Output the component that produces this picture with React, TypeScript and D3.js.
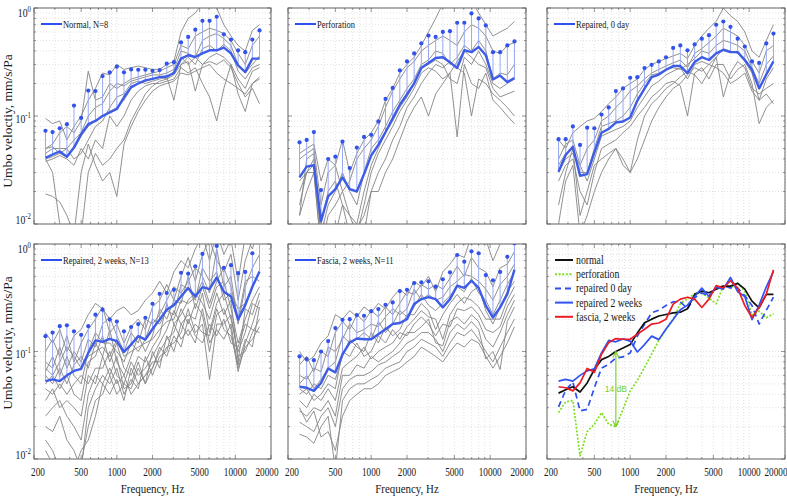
import React from "react";
import * as d3 from "d3";

// ---------- categories / ticks ----------
const FREQS = [250, 287, 330, 379, 435, 500, 574, 660, 758, 871, 1000, 1149, 1320, 1516, 1741, 2000, 2297, 2639, 3031, 3482, 4000, 4595, 5278, 6063, 6964, 8000, 9190, 10556, 12126, 13929, 16000];
const X_TICKS = [200, 500, 1000, 2000, 5000, 10000, 20000];
const X_TICK_LABELS = ["200", "500", "1000", "2000", "5000", "10000", "20000"];
const Y_TICKS = [1, 0.1, 0.01];
const Y_TICK_EXP = ["0", "-1", "-2"];

// ---------- Normal ----------
const NORMAL_MEAN = [0.041, 0.044, 0.047, 0.042, 0.051, 0.068, 0.084, 0.09, 0.1, 0.108, 0.116, 0.149, 0.185, 0.2, 0.214, 0.221, 0.229, 0.232, 0.25, 0.34, 0.365, 0.352, 0.38, 0.406, 0.406, 0.43, 0.38, 0.294, 0.255, 0.34, 0.34];
const NORMAL_UPPER = [0.073, 0.071, 0.077, 0.084, 0.125, 0.096, 0.172, 0.17, 0.234, 0.254, 0.286, 0.254, 0.27, 0.268, 0.268, 0.262, 0.266, 0.305, 0.315, 0.48, 0.54, 0.63, 0.76, 0.76, 0.83, 0.57, 0.51, 0.406, 0.39, 0.51, 0.62];
const NORMAL_SUBJECTS = [
  [0.095, 0.085, 0.09, 0.06, 0.08, 0.1, 0.14, 0.18, 0.25, 0.24, 0.3, 0.27, 0.28, 0.29, 0.28, 0.27, 0.27, 0.3, 0.32, 0.6, 0.8, 0.9, 1.1, 1.2, 1.0, 0.7, 0.55, 0.45, 0.4, 0.62, 0.7],
  [0.05, 0.055, 0.07, 0.08, 0.07, 0.09, 0.26, 0.14, 0.15, 0.2, 0.18, 0.2, 0.22, 0.23, 0.24, 0.25, 0.26, 0.28, 0.3, 0.45, 0.42, 0.55, 0.6, 0.65, 0.62, 0.58, 0.5, 0.38, 0.3, 0.45, 0.55],
  [0.045, 0.05, 0.05, 0.05, 0.06, 0.07, 0.1, 0.12, 0.13, 0.17, 0.2, 0.19, 0.21, 0.22, 0.23, 0.24, 0.24, 0.25, 0.27, 0.4, 0.38, 0.35, 0.5, 0.55, 0.58, 0.52, 0.45, 0.3, 0.25, 0.3, 0.36],
  [0.04, 0.042, 0.045, 0.042, 0.05, 0.065, 0.08, 0.09, 0.1, 0.11, 0.12, 0.14, 0.18, 0.2, 0.21, 0.22, 0.23, 0.22, 0.24, 0.3, 0.35, 0.3, 0.42, 0.45, 0.4, 0.46, 0.4, 0.26, 0.22, 0.28, 0.3],
  [0.05, 0.052, 0.045, 0.05, 0.04, 0.045, 0.06, 0.08, 0.09, 0.12, 0.15, 0.16, 0.2, 0.21, 0.2, 0.21, 0.22, 0.23, 0.14, 0.3, 0.32, 0.17, 0.3, 0.35, 0.38, 0.35, 0.3, 0.22, 0.18, 0.26, 0.28],
  [0.038, 0.04, 0.043, 0.04, 0.035, 0.05, 0.04, 0.06, 0.05, 0.1, 0.08, 0.1, 0.14, 0.17, 0.19, 0.2, 0.2, 0.21, 0.22, 0.28, 0.25, 0.28, 0.2, 0.15, 0.09, 0.18, 0.3, 0.16, 0.11, 0.2, 0.23],
  [0.019, 0.018, 0.016, 0.012, 0.008, 0.03, 0.055, 0.035, 0.025, 0.03, 0.018, 0.055, 0.08, 0.11, 0.14, 0.17, 0.19, 0.2, 0.21, 0.25, 0.24, 0.26, 0.28, 0.3, 0.25, 0.22, 0.2, 0.18, 0.16, 0.2, 0.22],
  [0.04, 0.03, 0.01, 0.008, 0.005, 0.008, 0.03, 0.045, 0.035, 0.04, 0.05, 0.06, 0.09, 0.12, 0.16, 0.19, 0.21, 0.22, 0.26, 0.35, 0.3, 0.35, 0.3, 0.32, 0.3, 0.33, 0.28, 0.2, 0.15, 0.18, 0.13],
];

// ---------- Perforation ----------
const PERF_MEAN = [0.027, 0.034, 0.035, 0.0107, 0.018, 0.021, 0.027, 0.021, 0.02, 0.029, 0.043, 0.054, 0.071, 0.095, 0.127, 0.159, 0.2, 0.278, 0.31, 0.344, 0.35, 0.314, 0.278, 0.406, 0.39, 0.436, 0.365, 0.218, 0.237, 0.206, 0.224];
const PERF_UPPER = [0.057, 0.06, 0.071, 0.0206, 0.04, 0.042, 0.058, 0.033, 0.051, 0.064, 0.067, 0.089, 0.144, 0.182, 0.264, 0.32, 0.38, 0.47, 0.556, 0.54, 0.6, 0.61, 0.73, 0.73, 0.89, 0.8, 0.69, 0.39, 0.39, 0.45, 0.49];
const PERF_SUBJECTS = [
  [0.045, 0.05, 0.055, 0.025, 0.04, 0.035, 0.06, 0.03, 0.045, 0.06, 0.07, 0.09, 0.14, 0.18, 0.25, 0.3, 0.35, 0.45, 0.6, 0.8, 1.1, 1.3, 1.2, 1.1, 1.2, 0.9, 0.7, 0.55, 0.6, 0.65, 0.75],
  [0.04, 0.045, 0.05, 0.015, 0.03, 0.035, 0.02, 0.025, 0.04, 0.05, 0.06, 0.08, 0.12, 0.17, 0.22, 0.28, 0.32, 0.4, 0.45, 0.5, 0.55, 0.5, 0.45, 0.6, 0.7, 0.65, 0.55, 0.4, 0.38, 0.45, 0.48],
  [0.025, 0.03, 0.035, 0.008, 0.015, 0.02, 0.03, 0.02, 0.015, 0.03, 0.05, 0.06, 0.08, 0.11, 0.14, 0.18, 0.22, 0.3, 0.33, 0.4, 0.38, 0.3, 0.35, 0.45, 0.4, 0.5, 0.4, 0.22, 0.25, 0.24, 0.3],
  [0.02, 0.03, 0.03, 0.006, 0.012, 0.015, 0.02, 0.012, 0.01, 0.02, 0.035, 0.05, 0.07, 0.09, 0.12, 0.15, 0.2, 0.28, 0.3, 0.33, 0.3, 0.22, 0.2, 0.35, 0.3, 0.4, 0.3, 0.2, 0.18, 0.2, 0.22],
  [0.015, 0.03, 0.04, 0.008, 0.01, 0.008, 0.015, 0.012, 0.008, 0.015, 0.03, 0.045, 0.06, 0.08, 0.11, 0.14, 0.18, 0.25, 0.28, 0.26, 0.22, 0.25, 0.064, 0.3, 0.2, 0.18, 0.25, 0.14, 0.12, 0.1, 0.085],
  [0.012, 0.02, 0.03, 0.006, 0.008, 0.01, 0.01, 0.008, 0.006, 0.008, 0.02, 0.03, 0.04, 0.06, 0.08, 0.12, 0.15, 0.2, 0.25, 0.3, 0.28, 0.32, 0.28, 0.25, 0.1, 0.22, 0.2, 0.16, 0.14, 0.12, 0.1],
  [0.012, 0.04, 0.045, 0.01, 0.02, 0.025, 0.015, 0.008, 0.009, 0.012, 0.02, 0.02, 0.03, 0.04, 0.06, 0.09, 0.12, 0.15, 0.1, 0.16, 0.2, 0.25, 0.32, 0.4, 0.35, 0.3, 0.28, 0.18, 0.15, 0.16, 0.17],
];

// ---------- Repaired, 0 day ----------
const REP0_MEAN = [0.0305, 0.0436, 0.052, 0.028, 0.029, 0.046, 0.07, 0.076, 0.087, 0.089, 0.097, 0.139, 0.179, 0.229, 0.242, 0.268, 0.29, 0.29, 0.25, 0.316, 0.35, 0.33, 0.38, 0.41, 0.39, 0.39, 0.33, 0.268, 0.18, 0.242, 0.32];
const REP0_UPPER = [0.061, 0.061, 0.08, 0.054, 0.078, 0.077, 0.103, 0.12, 0.17, 0.18, 0.226, 0.229, 0.278, 0.298, 0.32, 0.35, 0.427, 0.45, 0.406, 0.46, 0.52, 0.56, 0.7, 0.75, 0.67, 0.52, 0.44, 0.32, 0.31, 0.47, 0.58];
const REP0_SUBJECTS = [
  [0.06, 0.05, 0.07, 0.08, 0.09, 0.095, 0.11, 0.13, 0.15, 0.18, 0.2, 0.22, 0.27, 0.3, 0.32, 0.34, 0.36, 0.38, 0.34, 0.45, 0.55, 0.65, 0.75, 1.0, 0.85, 0.75, 0.6, 0.4, 0.35, 0.5, 0.7],
  [0.04, 0.055, 0.06, 0.035, 0.05, 0.06, 0.09, 0.1, 0.12, 0.14, 0.17, 0.19, 0.22, 0.25, 0.27, 0.29, 0.31, 0.33, 0.28, 0.38, 0.42, 0.48, 0.55, 0.65, 0.6, 0.55, 0.45, 0.32, 0.25, 0.4, 0.45],
  [0.035, 0.045, 0.05, 0.03, 0.03, 0.05, 0.08, 0.085, 0.09, 0.1, 0.12, 0.16, 0.2, 0.24, 0.25, 0.27, 0.28, 0.27, 0.3, 0.34, 0.4, 0.38, 0.45, 0.5, 0.48, 0.45, 0.4, 0.28, 0.2, 0.3, 0.36],
  [0.03, 0.04, 0.045, 0.035, 0.025, 0.04, 0.065, 0.07, 0.075, 0.08, 0.09, 0.12, 0.15, 0.19, 0.21, 0.24, 0.26, 0.28, 0.22, 0.3, 0.32, 0.3, 0.35, 0.42, 0.4, 0.38, 0.32, 0.25, 0.14, 0.22, 0.28],
  [0.025, 0.035, 0.04, 0.02, 0.015, 0.03, 0.05, 0.055, 0.06, 0.07, 0.08, 0.1, 0.12, 0.15, 0.17, 0.2, 0.21, 0.19, 0.1, 0.25, 0.28, 0.22, 0.3, 0.3, 0.22, 0.27, 0.3, 0.2, 0.085, 0.12, 0.14],
  [0.015, 0.03, 0.05, 0.012, 0.02, 0.035, 0.04, 0.045, 0.05, 0.04, 0.03, 0.06, 0.1, 0.13, 0.15, 0.18, 0.2, 0.23, 0.26, 0.24, 0.2, 0.26, 0.35, 0.15, 0.25, 0.32, 0.28, 0.18, 0.16, 0.18, 0.2],
  [0.01, 0.025, 0.035, 0.008, 0.012, 0.02, 0.03, 0.04, 0.05, 0.035, 0.03, 0.04, 0.06, 0.09, 0.12, 0.15, 0.18, 0.2, 0.24, 0.28, 0.26, 0.3, 0.28, 0.25, 0.2, 0.22, 0.25, 0.17, 0.14, 0.16, 0.13],
];

// ---------- Repaired, 2 weeks ----------
const REP2_MEAN = [0.053, 0.055, 0.053, 0.06, 0.066, 0.069, 0.097, 0.127, 0.123, 0.131, 0.125, 0.099, 0.116, 0.139, 0.129, 0.162, 0.198, 0.245, 0.27, 0.325, 0.389, 0.325, 0.397, 0.38, 0.488, 0.36, 0.325, 0.198, 0.27, 0.4, 0.555];
const REP2_UPPER = [0.139, 0.15, 0.172, 0.175, 0.154, 0.143, 0.172, 0.22, 0.245, 0.198, 0.19, 0.154, 0.169, 0.18, 0.206, 0.278, 0.344, 0.35, 0.375, 0.54, 0.53, 0.62, 0.81, 1.1, 0.96, 0.6, 0.635, 0.535, 0.55, 0.82, 1.1];
const REP2_SUBJECTS = [
  [0.15, 0.12, 0.16, 0.1, 0.14, 0.16, 0.22, 0.28, 0.25, 0.2, 0.24, 0.26, 0.22, 0.24, 0.3, 0.35, 0.45, 0.35, 0.55, 0.7, 0.6, 0.9, 1.2, 0.7, 1.3, 0.8, 1.1, 0.45, 1.2, 0.9, 1.5],
  [0.1, 0.13, 0.09, 0.14, 0.08, 0.12, 0.16, 0.2, 0.26, 0.15, 0.18, 0.12, 0.17, 0.2, 0.16, 0.26, 0.3, 0.42, 0.3, 0.5, 0.75, 0.45, 0.8, 1.1, 0.7, 0.55, 0.8, 0.3, 0.7, 1.1, 1.0],
  [0.08, 0.07, 0.11, 0.07, 0.1, 0.08, 0.13, 0.11, 0.18, 0.21, 0.14, 0.1, 0.15, 0.12, 0.2, 0.18, 0.22, 0.3, 0.4, 0.35, 0.45, 0.6, 0.5, 0.35, 0.9, 0.4, 0.5, 0.18, 0.4, 0.6, 0.8],
  [0.065, 0.09, 0.06, 0.09, 0.06, 0.05, 0.1, 0.15, 0.12, 0.12, 0.1, 0.08, 0.12, 0.1, 0.13, 0.2, 0.18, 0.24, 0.22, 0.42, 0.38, 0.3, 0.6, 0.45, 0.55, 0.3, 0.35, 0.25, 0.28, 0.4, 0.55],
  [0.06, 0.05, 0.07, 0.05, 0.075, 0.09, 0.07, 0.12, 0.09, 0.16, 0.08, 0.06, 0.09, 0.14, 0.1, 0.14, 0.25, 0.2, 0.3, 0.28, 0.5, 0.25, 0.4, 0.25, 0.4, 0.45, 0.25, 0.12, 0.2, 0.3, 0.4],
  [0.05, 0.06, 0.045, 0.06, 0.04, 0.035, 0.08, 0.09, 0.14, 0.08, 0.12, 0.07, 0.06, 0.09, 0.08, 0.11, 0.14, 0.28, 0.18, 0.22, 0.3, 0.35, 0.28, 0.2, 0.35, 0.22, 0.3, 0.08, 0.25, 0.22, 0.35],
  [0.045, 0.04, 0.05, 0.04, 0.05, 0.06, 0.05, 0.07, 0.07, 0.1, 0.06, 0.05, 0.08, 0.06, 0.07, 0.09, 0.12, 0.16, 0.24, 0.18, 0.22, 0.2, 0.35, 0.15, 0.28, 0.35, 0.2, 0.1, 0.15, 0.28, 0.25],
  [0.035, 0.045, 0.03, 0.035, 0.03, 0.025, 0.06, 0.05, 0.09, 0.06, 0.09, 0.045, 0.05, 0.08, 0.05, 0.07, 0.1, 0.13, 0.15, 0.25, 0.18, 0.28, 0.22, 0.1, 0.22, 0.25, 0.16, 0.065, 0.12, 0.18, 0.3],
  [0.025, 0.03, 0.035, 0.025, 0.02, 0.015, 0.04, 0.06, 0.05, 0.07, 0.05, 0.06, 0.04, 0.05, 0.06, 0.08, 0.08, 0.11, 0.12, 0.15, 0.25, 0.15, 0.18, 0.055, 0.18, 0.18, 0.22, 0.09, 0.1, 0.15, 0.2],
  [0.02, 0.018, 0.025, 0.015, 0.012, 0.008, 0.03, 0.045, 0.06, 0.05, 0.07, 0.04, 0.055, 0.045, 0.09, 0.06, 0.09, 0.1, 0.18, 0.13, 0.16, 0.12, 0.25, 0.12, 0.16, 0.13, 0.18, 0.07, 0.11, 0.13, 0.17],
  [0.015, 0.012, 0.008, 0.01, 0.007, 0.009, 0.02, 0.035, 0.04, 0.06, 0.04, 0.05, 0.045, 0.07, 0.05, 0.1, 0.07, 0.14, 0.1, 0.18, 0.14, 0.18, 0.15, 0.14, 0.25, 0.16, 0.14, 0.075, 0.13, 0.11, 0.26],
  [0.012, 0.009, 0.006, 0.005, 0.008, 0.012, 0.015, 0.025, 0.05, 0.04, 0.055, 0.035, 0.07, 0.05, 0.06, 0.07, 0.11, 0.09, 0.14, 0.11, 0.2, 0.14, 0.12, 0.18, 0.14, 0.2, 0.12, 0.11, 0.18, 0.16, 0.15],
  [0.07, 0.06, 0.08, 0.11, 0.09, 0.07, 0.09, 0.1, 0.11, 0.09, 0.13, 0.09, 0.1, 0.11, 0.12, 0.13, 0.16, 0.19, 0.2, 0.3, 0.28, 0.32, 0.45, 0.28, 0.45, 0.6, 0.4, 0.2, 0.45, 0.5, 0.45],
];

// ---------- Fascia, 2 weeks ----------
const FASCIA_MEAN = [0.047, 0.046, 0.043, 0.051, 0.0695, 0.064, 0.094, 0.121, 0.132, 0.13, 0.13, 0.145, 0.161, 0.18, 0.184, 0.2, 0.276, 0.307, 0.32, 0.307, 0.257, 0.307, 0.41, 0.39, 0.455, 0.39, 0.267, 0.207, 0.257, 0.342, 0.577];
const FASCIA_UPPER = [0.09, 0.085, 0.083, 0.1, 0.125, 0.165, 0.197, 0.2, 0.218, 0.215, 0.237, 0.248, 0.272, 0.286, 0.365, 0.375, 0.433, 0.44, 0.45, 0.4, 0.47, 0.545, 0.79, 0.685, 0.855, 0.82, 0.514, 0.46, 0.55, 0.76, 1.02];
const FASCIA_SUBJECTS = [
  [0.1, 0.08, 0.09, 0.12, 0.14, 0.22, 0.2, 0.24, 0.21, 0.26, 0.23, 0.28, 0.25, 0.32, 0.38, 0.33, 0.45, 0.4, 0.5, 0.36, 0.55, 0.65, 0.8, 0.75, 1.2, 1.4, 1.1, 0.7, 1.0, 1.2, 1.5],
  [0.075, 0.09, 0.065, 0.1, 0.09, 0.15, 0.19, 0.16, 0.22, 0.19, 0.24, 0.21, 0.26, 0.22, 0.28, 0.36, 0.34, 0.42, 0.38, 0.42, 0.38, 0.48, 0.62, 0.5, 0.75, 0.6, 0.55, 0.4, 0.6, 0.65, 0.85],
  [0.06, 0.055, 0.07, 0.065, 0.11, 0.1, 0.13, 0.18, 0.15, 0.16, 0.18, 0.17, 0.21, 0.25, 0.22, 0.25, 0.38, 0.3, 0.34, 0.3, 0.32, 0.4, 0.45, 0.52, 0.5, 0.45, 0.38, 0.3, 0.42, 0.5, 0.65],
  [0.05, 0.06, 0.045, 0.055, 0.07, 0.08, 0.14, 0.12, 0.13, 0.15, 0.13, 0.19, 0.15, 0.18, 0.24, 0.21, 0.26, 0.34, 0.27, 0.24, 0.28, 0.33, 0.4, 0.36, 0.48, 0.35, 0.3, 0.22, 0.3, 0.42, 0.55],
  [0.045, 0.04, 0.05, 0.045, 0.06, 0.055, 0.09, 0.13, 0.11, 0.1, 0.15, 0.12, 0.17, 0.14, 0.16, 0.22, 0.22, 0.28, 0.24, 0.16, 0.22, 0.28, 0.34, 0.28, 0.36, 0.4, 0.24, 0.18, 0.26, 0.36, 0.45],
  [0.04, 0.045, 0.035, 0.04, 0.05, 0.045, 0.1, 0.09, 0.12, 0.09, 0.1, 0.14, 0.12, 0.16, 0.13, 0.17, 0.2, 0.24, 0.21, 0.2, 0.13, 0.22, 0.28, 0.32, 0.3, 0.26, 0.2, 0.2, 0.2, 0.3, 0.4],
  [0.035, 0.03, 0.04, 0.035, 0.045, 0.035, 0.07, 0.08, 0.09, 0.11, 0.085, 0.1, 0.11, 0.12, 0.15, 0.14, 0.18, 0.21, 0.18, 0.14, 0.18, 0.17, 0.25, 0.24, 0.26, 0.22, 0.16, 0.15, 0.17, 0.26, 0.34],
  [0.028, 0.025, 0.03, 0.028, 0.035, 0.025, 0.06, 0.06, 0.075, 0.07, 0.09, 0.08, 0.09, 0.1, 0.12, 0.15, 0.15, 0.17, 0.2, 0.12, 0.113, 0.19, 0.21, 0.18, 0.22, 0.19, 0.13, 0.11, 0.15, 0.22, 0.3],
  [0.022, 0.02, 0.018, 0.025, 0.03, 0.02, 0.045, 0.055, 0.06, 0.06, 0.065, 0.075, 0.08, 0.09, 0.1, 0.12, 0.13, 0.15, 0.15, 0.13, 0.1, 0.15, 0.18, 0.16, 0.19, 0.16, 0.085, 0.1, 0.068, 0.19, 0.26],
  [0.017, 0.016, 0.014, 0.02, 0.025, 0.008, 0.035, 0.045, 0.05, 0.05, 0.055, 0.06, 0.07, 0.075, 0.08, 0.1, 0.11, 0.13, 0.12, 0.11, 0.09, 0.12, 0.15, 0.14, 0.16, 0.13, 0.1, 0.08, 0.11, 0.15, 0.2],
  [0.03, 0.022, 0.028, 0.016, 0.018, 0.012, 0.025, 0.035, 0.04, 0.045, 0.045, 0.05, 0.06, 0.065, 0.07, 0.08, 0.09, 0.11, 0.1, 0.09, 0.08, 0.1, 0.12, 0.11, 0.13, 0.12, 0.09, 0.07, 0.09, 0.12, 0.17],
];

const PANEL_LABELS = ["Normal, N=8", "Perforation", "Repaired, 0 day", "Repaired, 2 weeks, N=13", "Fascia, 2 weeks, N=11"];
const SUMMARY_LABELS = ["normal", "perforation", "repaired 0 day", "repaired 2 weeks", "fascia, 2 weeks"];
const ANNOT_LABEL = "14 dB";
const ANNOT_INDEX = 8;

// ---------- layout ----------
const W = 787;
const H = 499;
const COLS: [number, number][] = [[34, 271], [288, 526], [547, 785]];
const ROWS: [number, number][] = [[8, 224], [244, 459]];
const SERIF = '"Liberation Serif", "Times New Roman", serif';
const SANS = '"Liberation Sans", Arial, sans-serif';

const GRID_X: number[] = [];
for (const d of [100, 1000, 10000]) for (let m = 1; m < 10; m++) { const v = d * m; if (v >= 200 && v <= 20000) GRID_X.push(v); }
const GRID_Y: number[] = [];
for (const d of [0.01, 0.1]) for (let m = 1; m < 10; m++) GRID_Y.push(d * m);
GRID_Y.push(1);

type TxtProps = { x: number; y: number; sx?: number; size?: number; anchor?: string; fill?: string; family?: string; children: React.ReactNode };
function Txt({ x, y, sx = 0.84, size = 11, anchor = "middle", fill = "#1a1a1a", family = SERIF, children }: TxtProps) {
  return (
    <text transform={`translate(${x},${y}) scale(${sx},1)`} fontSize={size} fontFamily={family} textAnchor={anchor as any} fill={fill}>
      {children}
    </text>
  );
}

function scalesFor(col: number, row: number) {
  const [x0, x1] = COLS[col];
  const [y0, y1] = ROWS[row];
  const x = d3.scaleLog().domain([200, 20000]).range([x0, x1]);
  const y = d3.scaleLog().domain([0.01, 1]).range([y1, y0]);
  return { x, y, x0, x1, y0, y1 };
}

function Frame({ col, row, showXLabels, showYLabels }: { col: number; row: number; showXLabels: boolean; showYLabels: boolean }) {
  const { x, y, x0, x1, y0, y1 } = scalesFor(col, row);
  const tickLen = 3;
  return (
    <g>
      {GRID_X.map((g, i) => (
        <line key={"gx" + i} x1={x(g)} x2={x(g)} y1={y0} y2={y1} stroke="#cfcfcf" strokeWidth={0.6} strokeDasharray="1,2" />
      ))}
      {GRID_Y.map((g, i) => (
        <line key={"gy" + i} x1={x0} x2={x1} y1={y(g)} y2={y(g)} stroke="#cfcfcf" strokeWidth={0.6} strokeDasharray="1,2" />
      ))}
      {GRID_X.map((g, i) => {
        const major = X_TICKS.includes(g);
        const l = major ? tickLen + 1 : tickLen - 1;
        return (
          <g key={"tx" + i}>
            <line x1={x(g)} x2={x(g)} y1={y1} y2={y1 - l} stroke="#555" strokeWidth={0.6} />
            <line x1={x(g)} x2={x(g)} y1={y0} y2={y0 + l} stroke="#555" strokeWidth={0.6} />
          </g>
        );
      })}
      {GRID_Y.map((g, i) => {
        const major = Y_TICKS.some((t) => Math.abs(t - g) < 1e-9);
        const l = major ? tickLen + 1 : tickLen - 1;
        return (
          <g key={"ty" + i}>
            <line x1={x0} x2={x0 + l} y1={y(g)} y2={y(g)} stroke="#555" strokeWidth={0.6} />
            <line x1={x1} x2={x1 - l} y1={y(g)} y2={y(g)} stroke="#555" strokeWidth={0.6} />
          </g>
        );
      })}
      <rect x={x0} y={y0} width={x1 - x0} height={y1 - y0} fill="none" stroke="#555" strokeWidth={0.9} />
      {showXLabels &&
        X_TICKS.map((t, i) => {
          const last = i === X_TICKS.length - 1;
          const nudge = i === 0 ? 4 : last ? (col === 2 ? -9 : -4) : 0;
          return (
            <Txt key={"xl" + i} x={x(t) + nudge} y={y1 + 17} size={11.5} sx={0.8}>
              {X_TICK_LABELS[i]}
            </Txt>
          );
        })}
      {showYLabels &&
        Y_TICKS.map((t, i) => {
          const dy = [9, 6.5, 0][i];
          return (
            <text key={"yl" + i} transform={`translate(${x0 - 3},${y(t) + dy}) scale(0.85,1)`} textAnchor="end" fontSize={11.5} fontFamily={SERIF} fill="#1a1a1a">
              10
              <tspan fontSize={8} dy={-5}>{Y_TICK_EXP[i]}</tspan>
            </text>
          );
        })}
      {showXLabels && (
        <Txt x={(x0 + x1) / 2} y={y1 + 34} size={13} sx={0.84}>
          Frequency, Hz
        </Txt>
      )}
    </g>
  );
}

type PanelProps = { id: string; col: number; row: number; mean: number[]; upper: number[]; subjects: number[][]; label: string };
function StatPanel({ id, col, row, mean, upper, subjects, label }: PanelProps) {
  const { x, y, x0, x1, y0, y1 } = scalesFor(col, row);
  const line = d3
    .line<number>()
    .x((_, i) => x(FREQS[i]))
    .y((v) => y(v));
  return (
    <g>
      <defs>
        <clipPath id={id}>
          <rect x={x0} y={y0} width={x1 - x0} height={y1 - y0} />
        </clipPath>
      </defs>
      <Frame col={col} row={row} showXLabels={row === 1} showYLabels={col === 0} />
      <g clipPath={`url(#${id})`}>
        {subjects.map((s, i) => (
          <path key={"s" + i} d={line(s) || ""} fill="none" stroke="#858585" strokeWidth={0.9} />
        ))}
        {upper.map((u, i) => (
          <line key={"st" + i} x1={x(FREQS[i])} x2={x(FREQS[i])} y1={y(mean[i])} y2={y(u)} stroke="#98a9f3" strokeWidth={1} />
        ))}
        <path d={line(mean) || ""} fill="none" stroke="#3d5ce8" strokeWidth={2.4} strokeLinejoin="round" />
        {upper.map((u, i) => (
          <circle key={"d" + i} cx={x(FREQS[i])} cy={y(u)} r={2.1} fill="#3352ea" />
        ))}
      </g>
      <line x1={x0 + 7} x2={x0 + 28} y1={y0 + 16} y2={y0 + 16} stroke="#2f50f0" strokeWidth={2} />
      <Txt x={x0 + 29} y={y0 + 20} size={11} sx={0.77} anchor="start">
        {label}
      </Txt>
    </g>
  );
}

const SUMMARY_SERIES = [
  { values: PERF_MEAN, color: "#7ddf1e", dash: "2,1.6", width: 1.7, legendIndex: 1 },
  { values: REP0_MEAN, color: "#3050ee", dash: "6,4", width: 1.7, legendIndex: 2 },
  { values: NORMAL_MEAN, color: "#111111", dash: "", width: 1.7, legendIndex: 0 },
  { values: REP2_MEAN, color: "#2f52f5", dash: "", width: 1.7, legendIndex: 3 },
  { values: FASCIA_MEAN, color: "#ec1c24", dash: "", width: 1.7, legendIndex: 4 },
];

function SummaryPanel() {
  const col = 2;
  const row = 1;
  const { x, y, x0, x1, y0, y1 } = scalesFor(col, row);
  const line = d3
    .line<number>()
    .x((_, i) => x(FREQS[i]))
    .y((v) => y(v));
  const legendOrder = [...SUMMARY_SERIES].sort((a, b) => a.legendIndex - b.legendIndex);
  const ax = x(FREQS[ANNOT_INDEX]);
  const ayTop = y(NORMAL_MEAN[ANNOT_INDEX]);
  const ayBot = y(PERF_MEAN[ANNOT_INDEX]);
  const green = "#6fd01e";
  return (
    <g>
      <defs>
        <clipPath id="clip6">
          <rect x={x0} y={y0} width={x1 - x0} height={y1 - y0} />
        </clipPath>
      </defs>
      <Frame col={col} row={row} showXLabels={true} showYLabels={false} />
      <g clipPath="url(#clip6)">
        {SUMMARY_SERIES.map((s, i) => (
          <path key={i} d={line(s.values) || ""} fill="none" stroke={s.color} strokeWidth={s.width} strokeDasharray={s.dash || undefined} strokeLinejoin="round" />
        ))}
        <line x1={ax} x2={ax} y1={ayTop} y2={ayBot} stroke={green} strokeWidth={1.1} />
        <path d={`M${ax - 3},${ayTop + 6} L${ax},${ayTop} L${ax + 3},${ayTop + 6}`} fill="none" stroke={green} strokeWidth={1.1} />
        <path d={`M${ax - 3},${ayBot - 6} L${ax},${ayBot} L${ax + 3},${ayBot - 6}`} fill="none" stroke={green} strokeWidth={1.1} />
      </g>
      <Txt x={ax} y={(ayTop + ayBot) / 2 + 3} size={9} sx={0.95} family={SANS} fill={green}>
        {ANNOT_LABEL}
      </Txt>
      {legendOrder.map((s, i) => {
        const ly = y0 + 16 + i * 14.2;
        return (
          <g key={"lg" + i}>
            <line x1={x0 + 8} x2={x0 + 26} y1={ly} y2={ly} stroke={s.color} strokeWidth={2} strokeDasharray={s.dash || undefined} />
            <Txt x={x0 + 29} y={ly + 4} size={11.5} sx={0.85} anchor="start">
              {SUMMARY_LABELS[s.legendIndex]}
            </Txt>
          </g>
        );
      })}
    </g>
  );
}

export default function App() {
  return (
    <svg width={W} height={H} viewBox={`0 0 ${W} ${H}`} style={{ display: "block", position: "absolute", left: 0, top: 0, background: "#fff" }}>
      <rect x={0} y={0} width={W} height={H} fill="#fff" />
      <StatPanel id="clip1" col={0} row={0} mean={NORMAL_MEAN} upper={NORMAL_UPPER} subjects={NORMAL_SUBJECTS} label={PANEL_LABELS[0]} />
      <StatPanel id="clip2" col={1} row={0} mean={PERF_MEAN} upper={PERF_UPPER} subjects={PERF_SUBJECTS} label={PANEL_LABELS[1]} />
      <StatPanel id="clip3" col={2} row={0} mean={REP0_MEAN} upper={REP0_UPPER} subjects={REP0_SUBJECTS} label={PANEL_LABELS[2]} />
      <StatPanel id="clip4" col={0} row={1} mean={REP2_MEAN} upper={REP2_UPPER} subjects={REP2_SUBJECTS} label={PANEL_LABELS[3]} />
      <StatPanel id="clip5" col={1} row={1} mean={FASCIA_MEAN} upper={FASCIA_UPPER} subjects={FASCIA_SUBJECTS} label={PANEL_LABELS[4]} />
      <SummaryPanel />
      {[0, 1].map((r) => (
        <text key={"yt" + r} transform={`translate(11.5,${[121, 343][r]}) rotate(-90) scale(1,0.85)`} textAnchor="middle" fontSize={13.5} fontFamily={SERIF} fill="#1a1a1a">
          Umbo veloctiy, mm/s/Pa
        </text>
      ))}
    </svg>
  );
}
